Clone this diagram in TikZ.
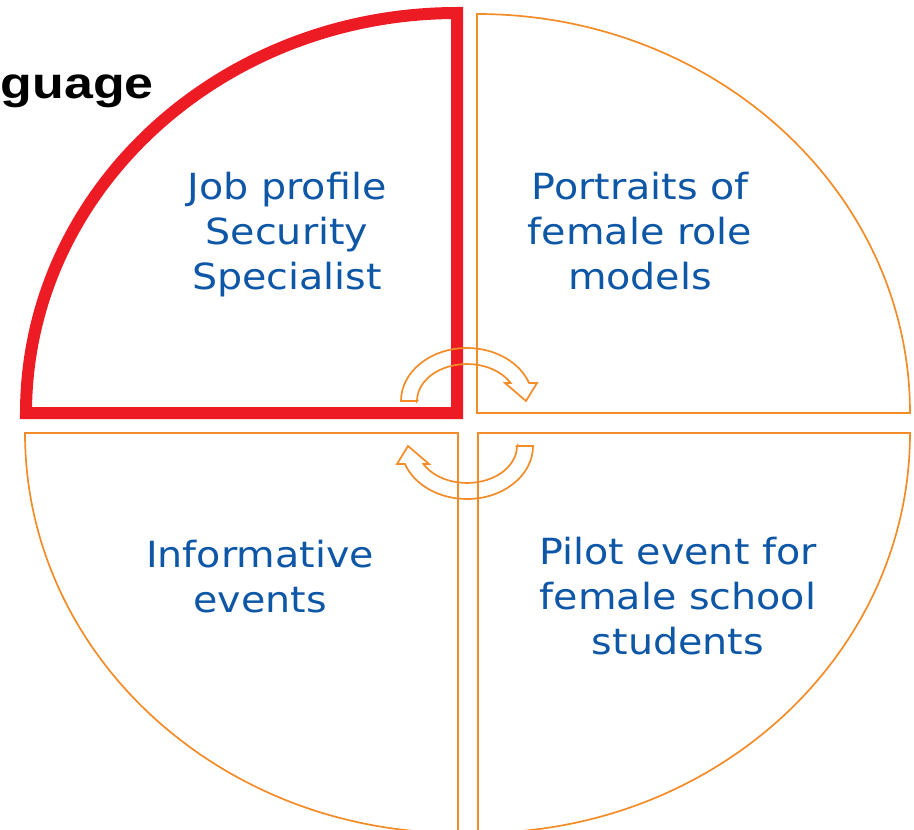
\documentclass[tikz,border=0pt]{standalone}
\usepackage{fontspec}
\newfontfamily\qfont[FakeStretch=1.1]{DejaVu Sans}
\newfontfamily\hfont[FakeStretch=1.18]{Liberation Sans}
\definecolor{qred}{RGB}{237,28,36}
\definecolor{qorange}{RGB}{242,140,40}
\definecolor{qblue}{RGB}{14,86,166}
\tikzset{
  quad/.style={draw=qorange, line width=1.7pt, fill=white},
  redquad/.style={draw=qred, line width=12pt, fill=white, line join=miter},
  cyc/.style={draw=qorange, line width=1.7pt},
  qtext/.style={align=center, text=qblue, inner sep=0pt, font=\qfont\fontsize{36}{45}\selectfont},
}
\begin{document}
\begin{tikzpicture}[x=1pt,y=-1pt]
\useasboundingbox (0,0) rectangle (914,830);
% quadrants
\draw[quad] (477,413) -- (477,14) arc[start angle=270, end angle=360, x radius=433, y radius=399] -- cycle;
\draw[quad] (458,433) -- (25,433) arc[start angle=180, end angle=90, x radius=433, y radius=400] -- cycle;
\draw[quad] (478,433) -- (910,433) arc[start angle=0, end angle=90, x radius=432, y radius=400] -- cycle;
\draw[redquad] (457,413) -- (26,413) arc[start angle=180, end angle=270, x radius=431, y radius=400] -- cycle;
% heading fragment
\node[anchor=base east, inner sep=0pt, font=\hfont\bfseries\fontsize{44}{50}\selectfont] (head) at (154,98) {guage};
% texts
\node[qtext, anchor=base] (t1) at (287,289) {Job profile\\Security\\Specialist};
\node[qtext, anchor=base] (t2) at (640,289) {Portraits of\\female role\\models};
\node[qtext, anchor=base] (t3) at (260,612) {Informative\\events};
\node[qtext, anchor=base] (t4) at (678,654) {Pilot event for\\female school\\students};
% cycle arrows
\draw[cyc] (417,401) -- (401,401) arc[start angle=180, end angle=340.1, x radius=66, y radius=53]
  -- (537,383) -- (526,401) -- (505,383) -- (510.7,383.1)
  arc[start angle=331, end angle=180, x radius=50, y radius=37] -- cycle;
\begin{scope}[rotate around={180:(467,423.5)}]
\draw[cyc] (417,401) -- (401,401) arc[start angle=180, end angle=340.1, x radius=66, y radius=53]
  -- (537,383) -- (526,401) -- (505,383) -- (510.7,383.1)
  arc[start angle=331, end angle=180, x radius=50, y radius=37] -- cycle;
\end{scope}
\end{tikzpicture}
\end{document}
